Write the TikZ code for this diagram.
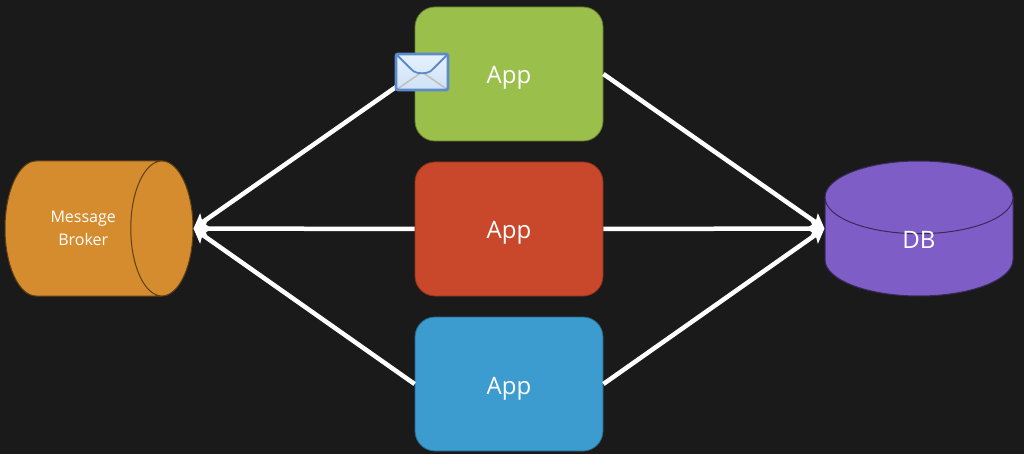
\documentclass[tikz,border=0pt]{standalone}
\usepackage{fontspec}
\setmainfont{Open Sans}
\usetikzlibrary{shapes,arrows.meta,positioning}
\definecolor{bgdark}{HTML}{1A1A1A}
\definecolor{appgreen}{HTML}{9BBF4B}
\definecolor{appred}{HTML}{C9472A}
\definecolor{appblue}{HTML}{3C9BCF}
\definecolor{brokerorange}{HTML}{D48C2E}
\definecolor{dbpurple}{HTML}{7E5EC6}
\definecolor{mailblue}{HTML}{5B8BCB}
\definecolor{mailtop}{HTML}{E6F1FC}
\definecolor{mailbottom}{HTML}{CFE1F6}

\begin{document}
\begin{tikzpicture}[
    x=1pt, y=-1pt,
    node distance=20.2pt,
    appbox/.style={rectangle, draw, rounded corners=20pt, line width=0.8pt, minimum width=188pt, minimum height=134pt, text=white, text height=20pt, text depth=0pt, font=\fontsize{24}{29}\selectfont},
    store/.style={cylinder, draw, line width=1pt, text=white, inner sep=0pt, anchor=shape center},
    arrow/.style={-{Stealth[length=14pt,width=17pt,inset=3pt]}, line width=4.5pt, white},
    mailbox/.style={rectangle, draw=mailblue, line width=2.8pt, rounded corners=2pt, top color=mailtop, bottom color=mailbottom, minimum width=52pt, minimum height=36pt, inner sep=0pt}
]
\useasboundingbox[fill=bgdark] (0,0) rectangle (1024,454);

\node[appbox, fill=appred, draw=appred!70!black] (appmid) at (509,229) {App};
\node[appbox, fill=appgreen, draw=appgreen!65!black, above=of appmid] (apptop) {App};
\node[appbox, fill=appblue, draw=appblue!65!black, below=of appmid] (appbottom) {App};

\node[store, fill=brokerorange, draw=brokerorange!45!black, minimum width=135pt, minimum height=188pt, aspect=1.8, shape border rotate=0, align=center, font=\fontsize{16}{23}\selectfont] (broker) at (99,228.5) {Message\\Broker};
\node[store, fill=dbpurple, draw=dbpurple!45!black, minimum width=188pt, minimum height=135pt, aspect=2.2, shape border rotate=90, text depth=8pt, font=\fontsize{24}{29}\selectfont] (db) at (919,228.5) {\raisebox{3pt}[17pt][0pt]{DB}};
\coordinate (brokerin) at (broker.east |- broker.shape center);
\coordinate (dbin) at (db.west |- db.shape center);

\draw[arrow] (apptop.west) -- (brokerin);
\draw[arrow] (appmid.west) -- (brokerin);
\draw[arrow] (appbottom.west) -- (brokerin);
\draw[arrow] (apptop.east) -- (dbin);
\draw[arrow] (appmid.east) -- (dbin);
\draw[arrow] (appbottom.east) -- (dbin);

% mail icon sits on the corner of the top app
\node[mailbox, path picture={
    \draw[black!25, line width=1.5pt] (path picture bounding box.south west) -- (path picture bounding box.center) -- (path picture bounding box.south east);
    \draw[mailblue, line width=1.8pt] (path picture bounding box.north west) -- ++(16,16) .. controls ++(5,4) and ++(-5,4) .. ++(20,0) -- (path picture bounding box.north east);
}] (mail) at (422,72) {};

\end{tikzpicture}
\end{document}
